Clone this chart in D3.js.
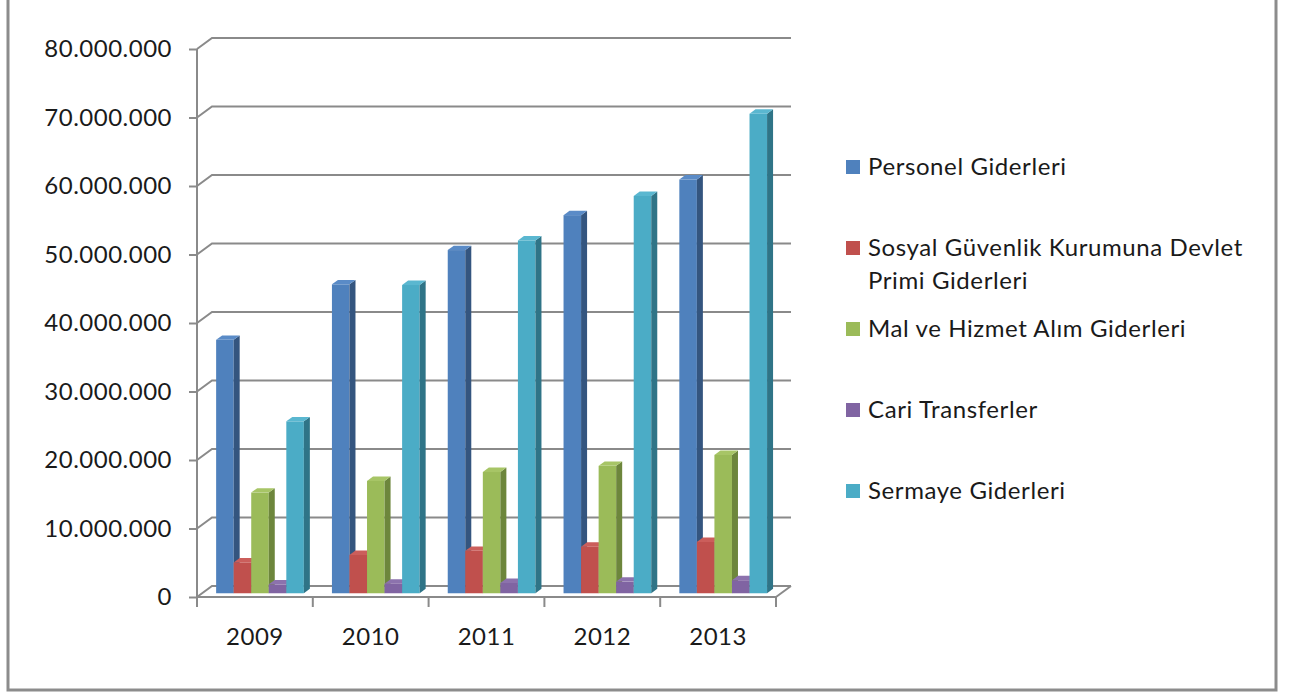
<!DOCTYPE html>
<html>
<head>
<meta charset="utf-8">
<script src="https://cdn.jsdelivr.net/npm/d3@7"></script>
<style>
  html, body { margin: 0; padding: 0; background: #fff; }
  svg { display: block; }
  text { font-family: Lato, "Open Sans", sans-serif; fill: #1a1a1a; }
</style>
</head>
<body>
<svg id="chart" width="1291" height="692"></svg>
<script>
// veriler
var years = ["2009", "2010", "2011", "2012", "2013"];
var seriesNames = [
  "Personel Giderleri",
  "Sosyal Güvenlik Kurumuna Devlet Primi Giderleri",
  "Mal ve Hizmet Alım Giderleri",
  "Cari Transferler",
  "Sermaye Giderleri"
];
var legendLines = [
  ["Personel Giderleri"],
  ["Sosyal Güvenlik Kurumuna Devlet", "Primi Giderleri"],
  ["Mal ve Hizmet Alım Giderleri"],
  ["Cari Transferler"],
  ["Sermaye Giderleri"]
];
var personel = [37000000, 45100000, 50100000, 55200000, 60400000];
var sgk = [4500000, 5600000, 6200000, 6800000, 7500000];
var malHizmet = [14700000, 16400000, 17700000, 18600000, 20200000];
var cari = [1300000, 1400000, 1500000, 1700000, 1900000];
var sermaye = [25100000, 45000000, 51500000, 58000000, 70000000];
var yTicks = [0, 10000000, 20000000, 30000000, 40000000, 50000000, 60000000, 70000000, 80000000];

var allSeries = [personel, sgk, malHizmet, cari, sermaye];

// renkler: ön yüz, yan yüz, üst yüz
var colors = [
  { front: "#4F81BD", side: "#34557F", top: "#5A8BC7" },
  { front: "#C0504D", side: "#8C3735", top: "#CB5E5B" },
  { front: "#9BBB59", side: "#6D863C", top: "#A7C566" },
  { front: "#8064A2", side: "#5A4676", top: "#8C72AD" },
  { front: "#4BACC6", side: "#2F7487", top: "#5AB7D0" }
];

var svg = d3.select("#chart");

// 3B derinlik vektörü (ön düzlemden arka duvara)
var depth = { x: 15, y: -11 };
var barFrom = 0.34, barTo = 0.74; // sütunların derinlik aralığı

var x = d3.scaleBand().domain(years).range([197, 776]).paddingInner(0).paddingOuter(0);
var x1 = d3.scaleBand().domain(d3.range(seriesNames.length))
  .range([0, x.bandwidth()]).paddingInner(0).paddingOuter(0.8);
var y = d3.scaleLinear().domain([0, 80000000]).range([597, 49]);

var trFormat = d3.formatLocale({ decimal: ",", thousands: ".", grouping: [3], currency: ["", ""] }).format(",d");

var gridColor = "#8a8a8a";

// arka duvar ızgara çizgileri + sol duvar çaprazları
var grid = svg.append("g");
yTicks.forEach(function (t) {
  var yf = y(t);
  grid.append("path")
    .attr("d", "M" + x.range()[0] + "," + yf +
      "L" + (x.range()[0] + depth.x) + "," + (yf + depth.y) +
      "L" + (x.range()[1] + depth.x) + "," + (yf + depth.y))
    .attr("fill", "none")
    .attr("stroke", gridColor)
    .attr("stroke-width", 2);
});
// zemin sağ kenarı
grid.append("line")
  .attr("x1", x.range()[1]).attr("y1", y(0))
  .attr("x2", x.range()[1] + depth.x).attr("y2", y(0) + depth.y)
  .attr("stroke", gridColor).attr("stroke-width", 2);

// sütunlar
var bars = svg.append("g");
years.forEach(function (yr, i) {
  allSeries.forEach(function (vals, s) {
    var v = vals[i];
    var x0 = x(yr) + x1(s) + depth.x * barFrom;
    var w = x1.bandwidth();
    var yb = y(0) + depth.y * barFrom;
    var yt = y(v) + depth.y * barFrom;
    var dx = depth.x * (barTo - barFrom), dy = depth.y * (barTo - barFrom);
    var c = colors[s];
    // ön yüz
    bars.append("rect")
      .attr("x", x0).attr("y", yt)
      .attr("width", w).attr("height", yb - yt)
      .attr("fill", c.front);
    // yan yüz
    bars.append("path")
      .attr("d", "M" + (x0 + w) + "," + yt + "L" + (x0 + w + dx) + "," + (yt + dy) +
        "L" + (x0 + w + dx) + "," + (yb + dy) + "L" + (x0 + w) + "," + yb + "Z")
      .attr("fill", c.side);
    // üst yüz
    bars.append("path")
      .attr("d", "M" + x0 + "," + yt + "L" + (x0 + dx) + "," + (yt + dy) +
        "L" + (x0 + w + dx) + "," + (yt + dy) + "L" + (x0 + w) + "," + yt + "Z")
      .attr("fill", c.top);
  });
});

// eksenler
var yAxis = svg.append("g").attr("transform", "translate(" + x.range()[0] + ",0)")
  .call(d3.axisLeft(y).tickValues(yTicks).tickFormat(trFormat).tickSize(8).tickPadding(17));
var xAxis = svg.append("g").attr("transform", "translate(0," + y(0) + ")")
  .call(d3.axisBottom(x).tickSize(0).tickPadding(31));

[yAxis, xAxis].forEach(function (ax) {
  ax.select(".domain").attr("stroke", gridColor).attr("stroke-width", 2);
  ax.selectAll(".tick line").attr("stroke", gridColor).attr("stroke-width", 2);
  ax.selectAll("text").attr("fill", "#1a1a1a").style("font-size", "24px")
    .style("letter-spacing", "0.5px")
    .style("font-family", "Lato, 'Open Sans', sans-serif");
});
xAxis.select(".domain").attr("d", "M" + x.range()[0] + ",0H" + x.range()[1]);
yAxis.select(".domain").attr("d", "M0," + y(80000000) + "V" + y(0));

// kategori sınır çentikleri
svg.append("g").selectAll("line")
  .data(years.concat(["end"]))
  .join("line")
  .attr("x1", function (d) { return d === "end" ? x.range()[1] : x(d); })
  .attr("x2", function (d) { return d === "end" ? x.range()[1] : x(d); })
  .attr("y1", y(0)).attr("y2", y(0) + 10)
  .attr("stroke", gridColor).attr("stroke-width", 2);

// lejant
var legend = svg.append("g").attr("transform", "translate(846,0)");
var legendY = [167, 248, 329, 410, 491];
legendLines.forEach(function (lines, i) {
  var g = legend.append("g").attr("transform", "translate(0," + legendY[i] + ")");
  g.append("rect").attr("x", 0).attr("y", -7).attr("width", 14).attr("height", 14)
    .attr("fill", colors[i].front);
  lines.forEach(function (ln, k) {
    g.append("text").attr("x", 22).attr("y", k * 33)
      .attr("dy", "0.35em")
      .style("font-size", "24px")
      .style("letter-spacing", "0.6px")
      .text(ln);
  });
});

// dış çerçeve
svg.append("rect")
  .attr("x", 8).attr("y", -5).attr("width", 1268).attr("height", 695)
  .attr("fill", "none").attr("stroke", "#8c8c8c").attr("stroke-width", 3);
</script>
</body>
</html>
